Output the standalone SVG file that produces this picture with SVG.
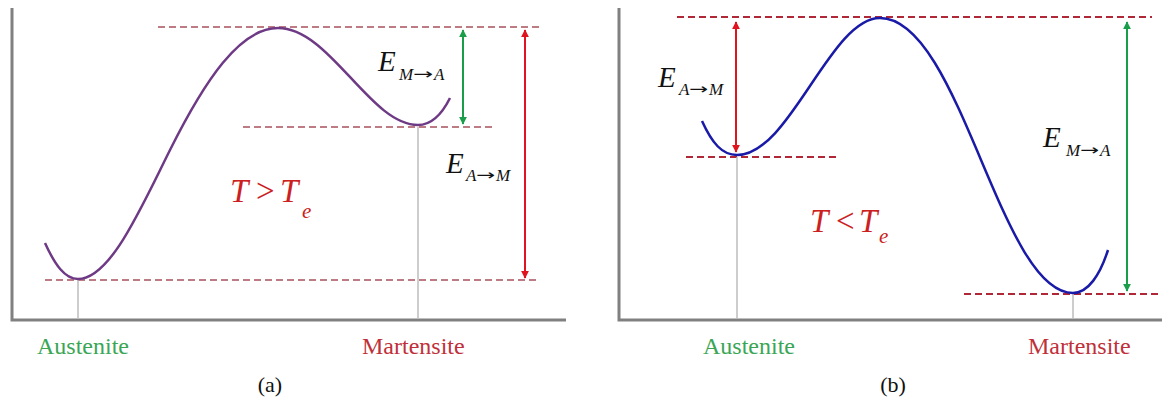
<svg xmlns="http://www.w3.org/2000/svg" width="1162" height="403" viewBox="0 0 1162 403">
<defs>
<marker id="ag" viewBox="0 0 10 10" refX="9" refY="5" markerWidth="4" markerHeight="4" orient="auto-start-reverse"><path d="M0,0 L10,5 L0,10 z" fill="#1a9e4a"/></marker>
<marker id="ar" viewBox="0 0 10 10" refX="9" refY="5" markerWidth="4" markerHeight="4" orient="auto-start-reverse"><path d="M0,0 L10,5 L0,10 z" fill="#e0141e"/></marker>
</defs>
<style>
.axis{stroke:#808080;stroke-width:3;fill:none}
.drop{stroke:#bdbdbd;stroke-width:1.5}
.dashA{stroke:#a8505c;stroke-width:1.5;stroke-dasharray:7 4}
.dashB{stroke:#b02838;stroke-width:1.8;stroke-dasharray:7 4}
.g{stroke:#1a9e4a;stroke-width:2;fill:none}
.r{stroke:#e0141e;stroke-width:2;fill:none}
text{font-family:"Liberation Serif","Times New Roman",serif}
.E{font-style:italic;font-size:29px;fill:#111}
.sub{font-style:italic;font-size:17px;fill:#111}
.arw{font-family:"DejaVu Sans",sans-serif;font-size:15px;fill:#111}
.T{font-style:italic;font-size:33px;fill:#cc1f1f}
.op{font-size:33px;fill:#cc1f1f}
.Ts{font-style:italic;font-size:21px;fill:#cc1f1f}
.aus{font-size:24px;fill:#3aa655}
.mar{font-size:24px;fill:#c0303a}
.cap{font-size:22px;fill:#111}
</style>
<rect width="1162" height="403" fill="#fff"/>

<g id="panel-a">
<g id="axes-a">
<polyline class="axis" points="12,8 12,320 566,320"/>
</g>
<g id="guides-a">
<line class="dashA" x1="158" y1="27" x2="540" y2="27"/>
<line class="dashA" x1="243" y1="127" x2="493" y2="127"/>
<line class="dashA" x1="45" y1="280" x2="540" y2="280"/>
<line class="drop" x1="78" y1="280" x2="78" y2="319"/>
<line class="drop" x1="418" y1="127" x2="418" y2="319"/>
</g>
<g id="curve-a">
<path d="M45,243 C55,265 65,279 78,279 C110,279 140,210 170,150 C205,80 240,28 278,28 C330,28 370,125 418,125 C432,125 443,112 450,98" fill="none" stroke="#6e3a86" stroke-width="2.5"/>
</g>
<g id="connectors-a">
<line class="g" x1="463" y1="30" x2="463" y2="124" marker-start="url(#ag)" marker-end="url(#ag)"/>
<line class="r" x1="525" y1="30" x2="525" y2="278" marker-start="url(#ar)" marker-end="url(#ar)"/>
</g>
<g id="label-a-EMA">
<text class="E" x="378" y="71">E</text>
<text class="sub" x="399" y="80">M</text>
<text class="arw" x="413" y="79" textLength="20" lengthAdjust="spacingAndGlyphs">→</text>
<text class="sub" x="434" y="80">A</text>
</g>
<g id="label-a-EAM">
<text class="E" x="446" y="173">E</text>
<text class="sub" x="466" y="181">A</text>
<text class="arw" x="476" y="180" textLength="19" lengthAdjust="spacingAndGlyphs">→</text>
<text class="sub" x="496" y="181">M</text>
</g>
<g id="label-a-T">
<text class="T" x="230" y="202">T</text>
<text class="op" x="256" y="202">&gt;</text>
<text class="T" x="280" y="202">T</text>
<text class="Ts" x="302" y="218">e</text>
</g>
<g id="labels-a">
<text class="aus" x="37" y="354">Austenite</text>
<text class="mar" x="362" y="354">Martensite</text>
<text class="cap" x="270" y="392" text-anchor="middle">(a)</text>
</g>
</g>

<g id="panel-b">
<g id="axes-b">
<polyline class="axis" points="619,8 619,320 1162,320"/>
</g>
<g id="guides-b">
<line class="dashB" x1="677" y1="17" x2="1152" y2="17"/>
<line class="dashB" x1="686" y1="157" x2="840" y2="157"/>
<line class="dashB" x1="964" y1="294" x2="1162" y2="294"/>
<line class="drop" x1="737" y1="157" x2="737" y2="319"/>
<line class="drop" x1="1073" y1="294" x2="1073" y2="319"/>
</g>
<g id="curve-b">
<path d="M702,121 C712,143 722,155 737,155 C790,155 830,18 880,18 C960,18 1000,293 1073,293 C1088,293 1100,275 1108,250" fill="none" stroke="#1a1aa8" stroke-width="2.5"/>
</g>
<g id="connectors-b">
<line class="r" x1="736" y1="22" x2="736" y2="152" marker-start="url(#ar)" marker-end="url(#ar)"/>
<line class="g" x1="1127" y1="22" x2="1127" y2="291" marker-start="url(#ag)" marker-end="url(#ag)"/>
</g>
<g id="label-b-EAM">
<text class="E" x="658" y="87">E</text>
<text class="sub" x="679" y="95">A</text>
<text class="arw" x="689" y="94" textLength="19" lengthAdjust="spacingAndGlyphs">→</text>
<text class="sub" x="709" y="95">M</text>
</g>
<g id="label-b-EMA">
<text class="E" x="1043" y="147">E</text>
<text class="sub" x="1066" y="156">M</text>
<text class="arw" x="1080" y="155" textLength="19" lengthAdjust="spacingAndGlyphs">→</text>
<text class="sub" x="1100" y="156">A</text>
</g>
<g id="label-b-T">
<text class="T" x="810" y="232">T</text>
<text class="op" x="836" y="232">&lt;</text>
<text class="T" x="859" y="232">T</text>
<text class="Ts" x="879" y="243">e</text>
</g>
<g id="labels-b">
<text class="aus" x="703" y="354">Austenite</text>
<text class="mar" x="1028" y="354">Martensite</text>
<text class="cap" x="893" y="392" text-anchor="middle">(b)</text>
</g>
</g>
</svg>
